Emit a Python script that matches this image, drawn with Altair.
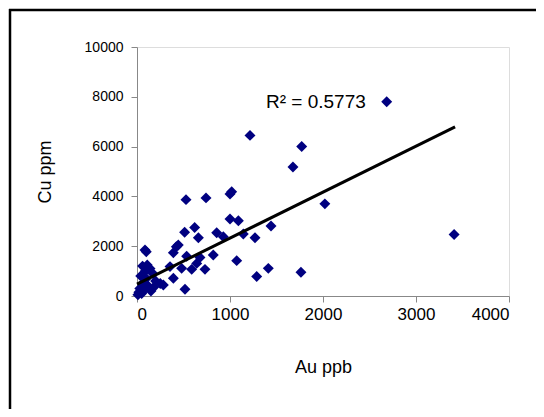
import altair as alt
import pandas as pd

# Scatter data: Au (ppb) vs Cu (ppm)
au_ppb = [10, 20, 30, 50, 60, 80, 100, 120, 150, 170, 200, 40, 90, 140, 110, 180, 60, 250,
          86, 100, 283, 391, 516, 355, 480, 588, 731, 642, 534, 677, 820, 391, 423, 444,
          512, 620, 660, 857, 928, 1000, 1090, 1143, 1269, 1441, 1072, 1287, 1412, 1763,
          527, 742, 1018, 1000, 1215, 1677, 1771, 2685, 2020, 3410]
cu_ppm = [50, 150, 300, 100, 500, 250, 700, 400, 200, 900, 600, 800, 1000, 1100, 1245, 350, 1200, 500,
          1850, 1780, 440, 710, 270, 1180, 1110, 1070, 1070, 1310, 1600, 1550, 1650, 1740, 1980, 2050,
          2560, 2750, 2340, 2540, 2380, 3090, 3020, 2490, 2340, 2810, 1420, 780, 1110, 950,
          3870, 3940, 4190, 4100, 6450, 5180, 6000, 7800, 3700, 2470]

# Linear trend line end points
trend_x = [0, 3420]
trend_y = [480, 6790]

# Annotation
label_text = ["R² = 0.5773"]
label_x = [1387]
label_y = [7780]

x_ticks = [0, 1000, 2000, 3000, 4000]
y_ticks = [0, 2000, 4000, 6000, 8000, 10000]

pts = pd.DataFrame({"Au ppb": au_ppb, "Cu ppm": cu_ppm})
trend = pd.DataFrame({"Au ppb": trend_x, "Cu ppm": trend_y})
lab = pd.DataFrame({"t": label_text, "x": label_x, "y": label_y})

xs = alt.Scale(domain=[0, 4000], nice=False)
ys = alt.Scale(domain=[0, 10000], nice=False)

x_axis = alt.Axis(values=x_ticks, grid=False, title="Au ppb", format="d",
                  titlePadding=36, labelPadding=4, tickSize=6,
                  labelFontSize=17, titleFontSize=18, titleFontWeight="normal")
y_axis = alt.Axis(values=y_ticks, grid=False, title="Cu ppm", format="d",
                  titlePadding=30, labelPadding=8, tickSize=6,
                  labelFontSize=14, titleFontSize=18, titleFontWeight="normal")

points = alt.Chart(pts).mark_point(shape="diamond", filled=True, size=120,
                                    color="#000080", opacity=1).encode(
    x=alt.X("Au ppb:Q", scale=xs, axis=x_axis),
    y=alt.Y("Cu ppm:Q", scale=ys, axis=y_axis),
)

line = alt.Chart(trend).mark_line(color="black", strokeWidth=3).encode(
    x=alt.X("Au ppb:Q", scale=xs),
    y=alt.Y("Cu ppm:Q", scale=ys),
)

text = alt.Chart(lab).mark_text(align="left", baseline="middle", fontSize=19,
                                font="Liberation Sans", color="black").encode(
    x=alt.X("x:Q", scale=xs),
    y=alt.Y("y:Q", scale=ys),
    text="t:N",
)

# outer chart frame (only left and top edges fall inside the window)
frame_left = alt.Chart(lab).mark_rule(color="black", strokeWidth=2.5).encode(
    x=alt.value(-127), y=alt.value(-38), y2=alt.value(480),
)
frame_top = alt.Chart(lab).mark_rule(color="black", strokeWidth=2.5).encode(
    x=alt.value(-128), x2=alt.value(520), y=alt.value(-37),
)

chart = alt.layer(frame_left, frame_top, points, line, text).properties(
    width=372, height=249,
    autosize=alt.AutoSizeParams(type="none"),
    padding={"left": 129, "top": 39, "right": 27, "bottom": 113},
).configure_view(
    stroke="#808080", strokeWidth=1
).configure_axis(
    domainColor="black", domainWidth=1.5, tickColor="black",
    labelFont="Liberation Sans", labelColor="black",
    titleFont="Liberation Sans", titleColor="black",
).configure(background="white")

chart.save("out.html", embed_options={"renderer": "svg", "actions": False})
